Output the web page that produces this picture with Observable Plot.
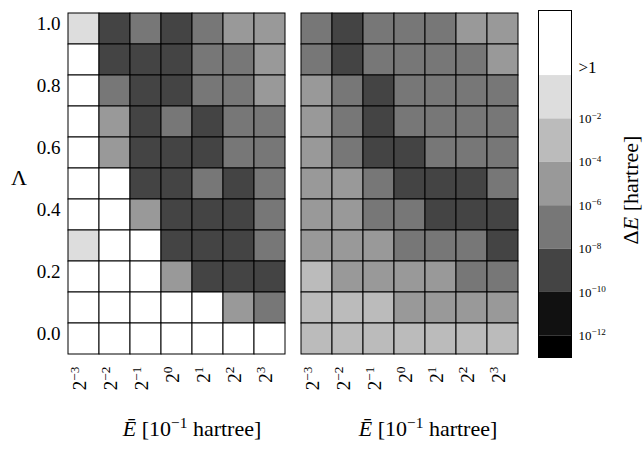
<!DOCTYPE html>
<html><head><meta charset="utf-8">
<script src="https://cdn.jsdelivr.net/npm/d3@7"></script>
<script src="https://cdn.jsdelivr.net/npm/@observablehq/plot@0.6"></script>
<style>
body{margin:0;background:#fff;}
#fig{position:relative;width:643px;height:451px;font-family:"Liberation Serif",serif;color:#000;}
#fig svg{position:absolute;top:0;}
.lab{position:absolute;white-space:nowrap;font-size:22px;line-height:1;transform:translate(-50%,-50%);}
.lab sup{font-size:0.7em;vertical-align:0.5em;line-height:0;}
</style></head><body><div id="fig"></div>
<script>
// Λ values (rows) and Ē exponents (columns, Ē = 2^n × 10^-1 hartree)
const lambdas = ["0.0","0.1","0.2","0.3","0.4","0.5","0.6","0.7","0.8","0.9","1.0"];
const lambdaTicks = ["0.0","0.2","0.4","0.6","0.8","1.0"];
const ebarExponents = [-3,-2,-1,0,1,2,3];
// log10(ΔE / hartree), rows listed from Λ = 1.0 (top) down to Λ = 0.0
const leftLogDE = [
  [-1,-9,-7,-9,-7,-5,-5],
  [ 1,-9,-9,-9,-7,-7,-5],
  [ 1,-7,-9,-9,-7,-7,-5],
  [ 1,-5,-9,-7,-9,-7,-7],
  [ 1,-5,-9,-9,-9,-7,-7],
  [ 1, 1,-9,-9,-7,-9,-7],
  [ 1, 1,-5,-9,-9,-9,-7],
  [-1, 1, 1,-9,-9,-9,-7],
  [ 1, 1, 1,-5,-9,-9,-9],
  [ 1, 1, 1, 1, 1,-5,-7],
  [ 1, 1, 1, 1, 1, 1, 1]
];
const rightLogDE = [
  [-7,-9,-7,-7,-7,-5,-5],
  [-7,-9,-7,-7,-7,-7,-5],
  [-5,-7,-9,-7,-7,-7,-7],
  [-5,-7,-9,-7,-7,-7,-7],
  [-5,-7,-9,-9,-7,-7,-7],
  [-5,-5,-7,-9,-9,-9,-7],
  [-5,-5,-7,-7,-9,-9,-9],
  [-5,-5,-5,-7,-7,-7,-9],
  [-3,-5,-5,-5,-5,-7,-7],
  [-3,-3,-3,-5,-5,-5,-5],
  [-3,-3,-3,-3,-3,-3,-3]
];
const colorThresholds = [-12,-10,-8,-6,-4,-2,0];
const grayLevels = ["#000000","#111111","#444444","#777777","#999999","#bbbbbb","#dddddd","#ffffff"];
const colorbarBounds = [3,0,-2,-4,-6,-8,-10,-12,-13];
const colorbarTicks = [-12,-10,-8,-6,-4,-2];
const overLabel = [{v: 0, text: ">1"}];

const colorOpt = {type: "threshold", domain: colorThresholds, range: grayLevels};
const fig = document.getElementById("fig");
const rowsDesc = lambdas.slice().reverse();

// turn "b^e" tick texts into base + superscript tspans
function supify(svg) {
  d3.select(svg).selectAll('g[aria-label$="tick label"] text').each(function() {
    const s = this.textContent;
    const i = s.indexOf("^");
    if (i < 0) return;
    const t = d3.select(this).text(null);
    t.append("tspan").text(s.slice(0, i));
    t.append("tspan").attr("dy", "-0.5em").attr("font-size", "0.7em").text(s.slice(i + 1).replace("-", "−"));
  });
}

function panel(rows, showY, left, width, marginLeft) {
  const data = [];
  rows.forEach((row, i) => row.forEach((v, j) => data.push({lam: rowsDesc[i], e: ebarExponents[j], v})));
  const svg = Plot.plot({
    width, height: 451, marginLeft, marginRight: 4, marginTop: 10, marginBottom: 95,
    style: {fontFamily: "Liberation Serif", fontSize: "19px", background: "transparent", color: "#000"},
    x: {type: "band", domain: ebarExponents, padding: 0, axis: null},
    y: {type: "band", domain: rowsDesc, padding: 0, axis: null},
    color: colorOpt,
    marks: [
      Plot.cell(data, {x: "e", y: "lam", fill: "v", stroke: "#000", strokeWidth: 1, inset: 0}),
      Plot.axisX({tickSize: 0, tickPadding: 10, tickRotate: -90, dx: -4, tickFormat: d => "2^" + d, label: null}),
      showY ? Plot.axisY({ticks: lambdaTicks, tickSize: 0, tickPadding: 5, dy: -5, label: null}) : null
    ]
  });
  svg.style.left = left + "px";
  supify(svg);
  fig.appendChild(svg);
}
panel(leftLogDE, true, 0, 292, 65);
panel(rightLogDE, false, 297, 227, 2);

const cbData = d3.pairs(colorbarBounds).map(([hi, lo]) => ({hi, lo, mid: (hi + lo) / 2}));
const cb = Plot.plot({
  width: 123, height: 451, marginLeft: 18, marginRight: 72, marginTop: 10, marginBottom: 94,
  style: {fontFamily: "Liberation Serif", fontSize: "13px", background: "transparent", color: "#000"},
  y: {domain: [-13, 3], axis: null},
  color: colorOpt,
  marks: [
    Plot.rect(cbData, {y1: "lo", y2: "hi", fill: "mid"}),
    Plot.frame({stroke: "#000"}),
    Plot.axisY({anchor: "right", ticks: colorbarTicks, tickSize: 0, tickPadding: 7, tickFormat: d => "10^" + d, label: null}),
    Plot.text(overLabel, {y: "v", text: "text", frameAnchor: "right", dx: 7, dy: -8, textAnchor: "start", fontSize: 17})
  ]
});
cb.style.left = "520px";
supify(cb);
fig.appendChild(cb);

function label(html, x, y, rot) {
  const d = document.createElement("div");
  d.className = "lab";
  d.innerHTML = html;
  d.style.left = x + "px";
  d.style.top = y + "px";
  if (rot) d.style.transform = "translate(-50%,-50%) rotate(-90deg)";
  fig.appendChild(d);
}
label("Λ", 19, 178);
label("<i>Ē</i> [10<sup>−1</sup> hartree]", 192, 429);
label("<i>Ē</i> [10<sup>−1</sup> hartree]", 428, 429);
label("Δ<i>E</i> [hartree]", 631, 190, true);
</script></body></html>
